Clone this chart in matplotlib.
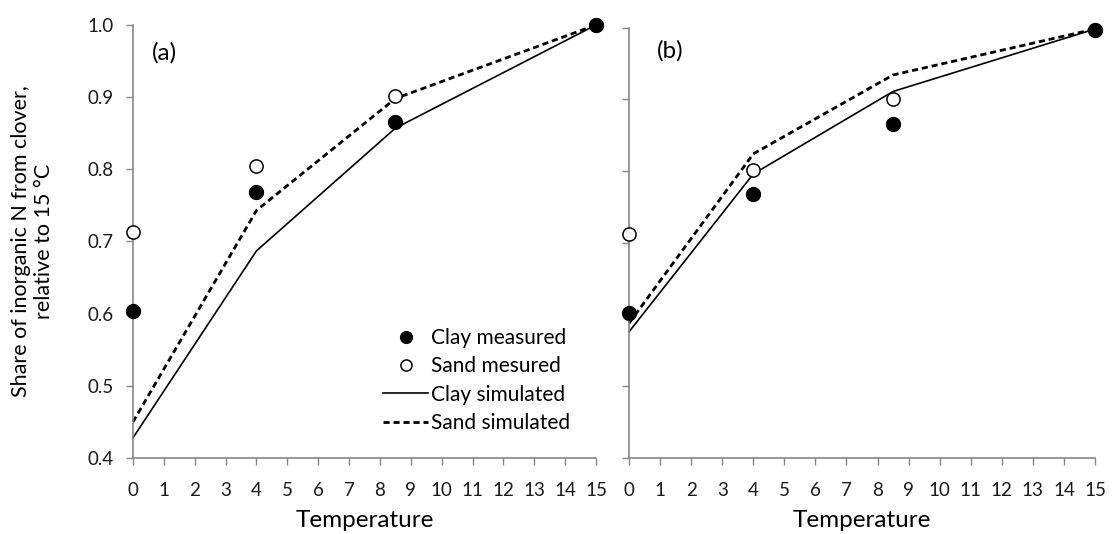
import matplotlib
matplotlib.use("Agg")
import matplotlib.pyplot as plt
from matplotlib.lines import Line2D

plt.rcParams['font.family'] = ['Lato', 'DejaVu Sans']

temps = [0, 4, 8.5, 15]
xticks = list(range(0, 16))
yticks = [0.4, 0.5, 0.6, 0.7, 0.8, 0.9, 1.0]

# Panel (a)
a_clay_meas = [0.604, 0.769, 0.866, 1.0]
a_sand_meas = [0.713, 0.804, 0.901, 1.0]
a_clay_sim = [0.428, 0.687, 0.857, 1.0]
a_sand_sim = [0.450, 0.743, 0.898, 1.0]

# Panel (b)
b_clay_meas = [0.602, 0.768, 0.865, 0.997]
b_sand_meas = [0.712, 0.801, 0.900, 0.997]
b_clay_sim = [0.576, 0.796, 0.911, 0.998]
b_sand_sim = [0.588, 0.824, 0.934, 0.998]

panel_labels = ["(a)", "(b)"]
legend_labels = ["Clay measured", "Sand mesured", "Clay simulated", "Sand simulated"]

fig = plt.figure(figsize=(11.12, 5.34), dpi=100)
ax1 = fig.add_axes([0.1196, 0.1423, 0.4164, 0.811])
ax2 = fig.add_axes([0.5657, 0.1423, 0.4190, 0.806])

spine_col = '#868686'
label_pos = [(0.041, 0.935), (0.06, 0.947)]
data = [(ax1, a_clay_meas, a_sand_meas, a_clay_sim, a_sand_sim),
        (ax2, b_clay_meas, b_sand_meas, b_clay_sim, b_sand_sim)]

for i, (ax, cm, sm, cs, ss) in enumerate(data):
    ax.plot(temps, cs, color='black', lw=1.2, clip_on=False, zorder=2)
    ax.plot(temps, ss, color='black', lw=2.0, ls=(0, (2.2, 1.4)), clip_on=False, zorder=2)
    ax.plot(temps, sm, ls='none', marker='o', ms=9.5, mfc='white', mec='black', mew=1.1,
            clip_on=False, zorder=3)
    ax.plot(temps, cm, ls='none', marker='o', ms=10, mfc='black', mec='black',
            clip_on=False, zorder=4)
    ax.set_xlim(0, 15)
    ax.set_ylim(0.4, 1.0)
    ax.set_xticks(xticks)
    ax.set_yticks(yticks)
    for s in ['top', 'right']:
        ax.spines[s].set_visible(False)
    for s in ['left', 'bottom']:
        ax.spines[s].set_color(spine_col)
        ax.spines[s].set_linewidth(1.2)
    ax.tick_params(axis='both', direction='out', length=5, color=spine_col, width=1,
                   labelsize=13.5, labelcolor='#1a1a1a')
    ax.tick_params(axis='x', pad=12)
    ax.set_xlabel("Temperature", fontsize=17.5, labelpad=8)
    ax.text(label_pos[i][0], label_pos[i][1], panel_labels[i], transform=ax.transAxes,
            fontsize=17.5, va='center', ha='left')

ax1.set_yticklabels([f"{v:.1f}" for v in yticks])
ax1.tick_params(axis='y', pad=9)
ax2.set_yticklabels([])
ax1.set_ylabel("Share of inorganic N from clover,\nrelative to 15 °C", fontsize=15.5,
               labelpad=24)

handles = [
    Line2D([], [], ls='none', marker='o', ms=8.5, mfc='black', mec='black'),
    Line2D([], [], ls='none', marker='o', ms=8, mfc='white', mec='black', mew=1.1),
    Line2D([], [], color='black', lw=1.2),
    Line2D([], [], color='black', lw=2.0, ls=(0, (2.2, 1.4))),
]
ax1.legend(handles, legend_labels, loc='upper left', bbox_to_anchor=(0.54, 0.30),
           frameon=False, fontsize=15, handlelength=2.16, handletextpad=0.12,
           labelspacing=0.40, borderaxespad=0, borderpad=0)

fig.savefig("out.png", dpi=100)
